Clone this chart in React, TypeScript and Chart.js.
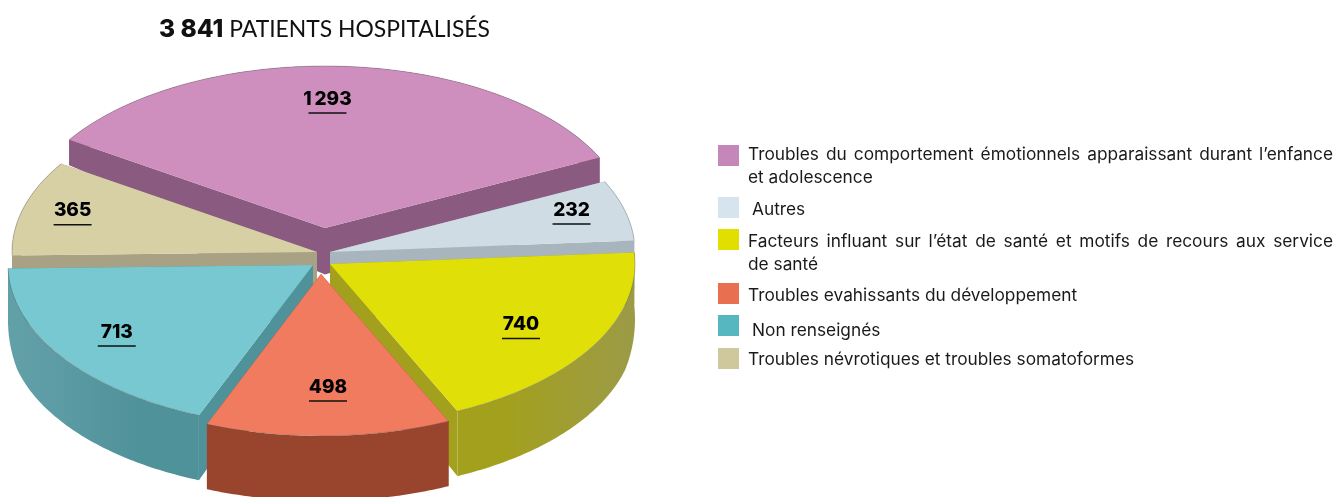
import React, { useEffect, useRef } from "react";
import { Chart, registerables } from "chart.js";

Chart.register(...registerables);

const totalValue = "3 841";
const titleText = "PATIENTS HOSPITALISÉS";
const categories = [
  "Troubles du comportement émotionnels apparaissant durant l’enfance\net adolescence",
  "Autres",
  "Facteurs influant sur l’état de santé et motifs de recours aux service\nde santé",
  "Troubles evahissants du développement",
  "Non renseignés",
  "Troubles névrotiques et troubles somatoformes",
];
const patients = [1293, 232, 740, 498, 713, 365];
const valueLabels = ["1\u2009293", "232", "740", "498", "713", "365"];
const topColors = ["#CE8FBF", "#CFDCE4", "#E0DF08", "#F17B5E", "#77C8D0", "#D7D0A4"];
const wallColors = ["#8A5A80", "#A9B5BE", "#A3A01E", "#99442C", "#50929A", "#A8A183"];
const wallEdgeColors = ["#8A5A80", "#A9B5BE", "#9C9B45", "#99442C", "#62A0A8", "#A8A183"];
const legendColors = ["#C587B9", "#D6E4EE", "#E0DF00", "#E86F50", "#56B7C0", "#CFC89C"];
const explodeX = [2, 7, 7, -2, -10, -6];
const explodeY = [-24, 0, 12, 22, 13, 0];
const labelRadius = [0.81, 0.84, 0.72, 0.685, 0.75, 0.84];
const labelNudgeX = [-13, -6, 2, 2, -8, 2];
const labelNudgeY = [2, -7, 1, 2, -2, -4];
const legendTops = [142, 197, 229, 283, 318, 347];
const swatchTops = [145, 197, 229, 283, 315, 348];
const legendIndent = [0, 4, 0, 0, 4, 0];

const CENTER_X = 323;
const CENTER_Y = 252;
const RADIUS_X = 305;
const RADIUS_Y = 162;
const CLIP_RIGHT = 637;

const depthAt = (y: number) => Math.min(65, 25 + 0.24 * (y - 138));

const pie3d = {
  id: "pie3d",
  beforeDatasetDraw(chart: any) {
    const ctx = chart.ctx;
    const arcs = chart.getDatasetMeta(0).data;
    const R = arcs[0].outerRadius;
    const sx = RADIUS_X / R;
    const sy = RADIUS_Y / R;
    const x0 = arcs[0].x;
    const y0 = arcs[0].y;
    const screen = (i: number, angle: number, rho: number) => ({
      x: CENTER_X + explodeX[i] + sx * rho * Math.cos(angle),
      y: CENTER_Y + explodeY[i] + sy * rho * Math.sin(angle),
    });
    ctx.save();
    ctx.beginPath();
    ctx.rect(0, 0, CLIP_RIGHT, 497);
    ctx.clip();

    const order = arcs
      .map((arc: any, i: number) => ({ arc, i, m: Math.sin((arc.startAngle + arc.endAngle) / 2) }))
      .sort((a: any, b: any) => a.m - b.m);

    const fillWall = (pts: { x: number; y: number }[], color: any) => {
      ctx.beginPath();
      pts.forEach((p, k) => (k ? ctx.lineTo(p.x, p.y) : ctx.moveTo(p.x, p.y)));
      for (let k = pts.length - 1; k >= 0; k--) ctx.lineTo(pts[k].x, pts[k].y + depthAt(pts[k].y));
      ctx.closePath();
      ctx.fillStyle = color;
      ctx.fill();
    };
    const rimOf = (arc: any, i: number) => {
      const rim = [];
      for (let k = 0; k <= 80; k++) {
        rim.push(screen(i, arc.startAngle + ((arc.endAngle - arc.startAngle) * k) / 80, R));
      }
      return rim;
    };

    for (const { arc, i } of order) {
      const apex = screen(i, arc.startAngle, 0);
      fillWall([apex, screen(i, arc.startAngle, R)], wallColors[i]);
      fillWall([apex, screen(i, arc.endAngle, R)], wallColors[i]);
      const shade = ctx.createLinearGradient(CENTER_X - RADIUS_X, 0, CENTER_X + RADIUS_X, 0);
      shade.addColorStop(0, wallEdgeColors[i]);
      shade.addColorStop(0.2, wallColors[i]);
      shade.addColorStop(0.8, wallColors[i]);
      shade.addColorStop(1, wallEdgeColors[i]);
      fillWall(rimOf(arc, i), shade);
    }
    arcs.forEach((arc: any, i: number) => {
      ctx.save();
      ctx.transform(sx, 0, 0, sy, CENTER_X + explodeX[i] - sx * x0, CENTER_Y + explodeY[i] - sy * y0);
      arc.draw(ctx, chart.chartArea);
      ctx.restore();
      ctx.beginPath();
      rimOf(arc, i).forEach((p, k) => (k ? ctx.lineTo(p.x, p.y) : ctx.moveTo(p.x, p.y)));
      ctx.strokeStyle = "rgba(90,90,90,0.35)";
      ctx.lineWidth = 1;
      ctx.stroke();
    });
    ctx.restore();

    ctx.save();
    ctx.fillStyle = "#000";
    ctx.strokeStyle = "#111";
    ctx.font = '800 19px "Inter"';
    ctx.textAlign = "center";
    ctx.textBaseline = "middle";
    arcs.forEach((arc: any, i: number) => {
      const mid = (arc.startAngle + arc.endAngle) / 2;
      const r = labelRadius[i] * R;
      const x = CENTER_X + explodeX[i] + sx * r * Math.cos(mid) + labelNudgeX[i];
      const y = CENTER_Y + explodeY[i] + sy * r * Math.sin(mid) + labelNudgeY[i];
      ctx.fillText(valueLabels[i], x, y);
      ctx.lineWidth = 1.5;
      ctx.beginPath();
      ctx.moveTo(x - 19, y + 14);
      ctx.lineTo(x + 19, y + 14);
      ctx.stroke();
    });
    ctx.restore();
    return false;
  },
};

export default function App() {
  const ref = useRef<HTMLCanvasElement>(null);
  useEffect(() => {
    const chart = new Chart(ref.current as HTMLCanvasElement, {
      type: "pie",
      data: {
        labels: categories.map((c) => c.replace("\n", " ")),
        datasets: [
          {
            data: patients,
            backgroundColor: topColors,
            borderWidth: 0,
            hoverOffset: 0,
          } as any,
        ],
      },
      options: {
        responsive: false,
        animation: false,
        rotation: -57,
        events: [],
        plugins: { legend: { display: false }, tooltip: { enabled: false } },
      },
      plugins: [pie3d],
    } as any);
    return () => chart.destroy();
  }, []);

  const textStyle: React.CSSProperties = {
    position: "absolute",
    fontFamily: "Inter",
    fontSize: 17.3,
    lineHeight: "23px",
    color: "#1a1a1a",
    whiteSpace: "nowrap",
  };
  return (
    <div style={{ position: "fixed", left: 0, top: 0, width: 1336, height: 497, overflow: "hidden", background: "#fff" }}>
      <canvas ref={ref} width={1336} height={497} style={{ position: "absolute", left: 0, top: 0, width: 1336, height: 497 }} />
      <div style={{ position: "absolute", left: 159, top: 12, fontFamily: "Lato", fontSize: 22.9, lineHeight: "32px", color: "#111", whiteSpace: "nowrap" }}>
        <b style={{ fontFamily: "Inter", fontWeight: 800, fontSize: 24.5 }}>{totalValue}</b> {titleText}
      </div>
      {categories.map((c, i) => (
        <React.Fragment key={c}>
          <div style={{ position: "absolute", left: 718, top: swatchTops[i], width: 21, height: 21, background: legendColors[i] }} />
          {c.split("\n").map((line, k, all) => (
            <div
              key={k}
              style={{
                ...textStyle,
                left: 748 + legendIndent[i],
                top: legendTops[i] + k * 23,
                width: 585,
                textAlign: "justify",
                textAlignLast: k === 0 && all.length > 1 ? "justify" : "left",
                whiteSpace: k === 0 && all.length > 1 ? "normal" : "nowrap",
              }}
            >
              {line}
            </div>
          ))}
        </React.Fragment>
      ))}
    </div>
  );
}
